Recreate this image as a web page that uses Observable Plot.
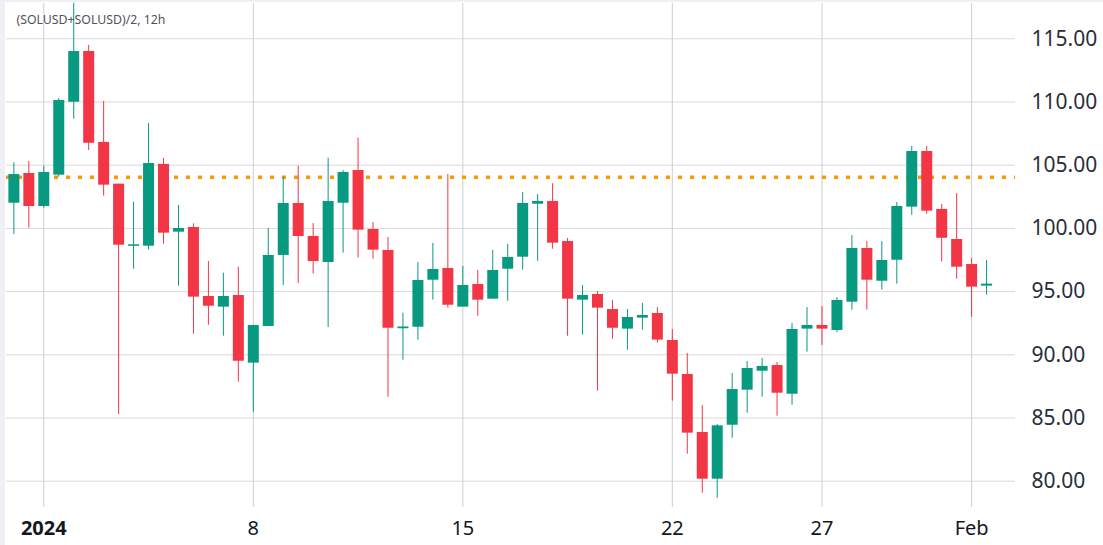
<!DOCTYPE html>
<html><head><meta charset="utf-8">
<script src="https://cdn.jsdelivr.net/npm/d3@7"></script>
<script src="https://cdn.jsdelivr.net/npm/@observablehq/plot@0.6"></script>
<style>
body{margin:0;background:#fff;font-family:"Noto Sans",sans-serif;}
#wrap{position:relative;width:1103px;height:545px;overflow:hidden;}
#wrap svg{position:absolute;left:0;top:0;}
.strip-l{position:absolute;left:0;top:0;width:5px;height:545px;background:#f0f0f4;}
.strip-t{position:absolute;left:0;top:0;width:1103px;height:2px;background:#f0f0f4;}
</style></head>
<body><div id="wrap"><div class="strip-l"></div><div class="strip-t"></div></div>
<script>
const title = "(SOLUSD+SOLUSD)/2, 12h";
const times = [
"2023-12-31T00","2023-12-31T12","2024-01-01T00","2024-01-01T12","2024-01-02T00","2024-01-02T12",
"2024-01-03T00","2024-01-03T12","2024-01-04T00","2024-01-04T12","2024-01-05T00","2024-01-05T12",
"2024-01-06T00","2024-01-06T12","2024-01-07T00","2024-01-07T12","2024-01-08T00","2024-01-08T12",
"2024-01-09T00","2024-01-09T12","2024-01-10T00","2024-01-10T12","2024-01-11T00","2024-01-11T12",
"2024-01-12T00","2024-01-12T12","2024-01-13T00","2024-01-13T12","2024-01-14T00","2024-01-14T12",
"2024-01-15T00","2024-01-15T12","2024-01-16T00","2024-01-16T12","2024-01-17T00","2024-01-17T12",
"2024-01-18T00","2024-01-18T12","2024-01-19T00","2024-01-19T12","2024-01-20T00","2024-01-20T12",
"2024-01-21T00","2024-01-21T12","2024-01-22T00","2024-01-22T12","2024-01-23T00","2024-01-23T12",
"2024-01-24T00","2024-01-24T12","2024-01-25T00","2024-01-25T12","2024-01-26T00","2024-01-26T12",
"2024-01-27T00","2024-01-27T12","2024-01-28T00","2024-01-28T12","2024-01-29T00","2024-01-29T12",
"2024-01-30T00","2024-01-30T12","2024-01-31T00","2024-01-31T12","2024-02-01T00","2024-02-01T12"];
const open = [101.99,104.34,101.73,104.21,109.98,113.99,106.80,103.50,98.58,98.59,105.06,99.70,
100.07,94.61,93.77,94.69,89.34,92.24,97.86,101.97,99.36,97.30,101.99,104.58,
99.91,98.25,92.06,92.18,95.90,96.83,93.77,95.56,94.40,96.77,97.72,101.91,
102.13,98.96,94.32,94.77,93.58,92.03,92.90,93.27,91.13,88.44,83.85,80.16,
84.43,87.20,88.70,89.15,86.88,92.03,92.32,91.92,94.16,98.41,95.82,97.48,
101.68,106.08,101.50,99.12,97.14,95.43];
const high = [105.19,105.29,104.92,110.28,117.80,114.47,110.04,103.50,102.07,108.30,105.53,101.81,
100.36,97.38,96.46,96.93,92.32,99.99,104.03,104.92,100.39,105.55,104.58,107.14,
100.47,99.28,93.29,97.30,98.81,104.26,97.00,96.67,98.25,98.73,102.84,102.68,
103.53,99.20,95.48,95.01,94.30,93.58,94.06,93.74,92.00,90.10,85.99,84.49,
88.52,89.47,89.71,89.39,92.48,93.74,93.82,94.53,99.44,98.96,98.96,102.05,
106.48,106.48,101.89,102.76,97.62,97.46];
const low = [99.52,100.02,101.60,104.05,108.64,106.16,102.55,85.28,96.77,98.28,98.75,95.43,
91.63,92.34,91.47,87.83,85.46,92.24,95.48,95.64,96.38,92.16,98.04,97.64,
97.56,86.65,89.57,91.16,94.32,93.69,93.77,93.05,94.40,94.24,96.69,97.40,
98.35,91.47,91.55,87.12,91.23,90.36,91.95,90.92,86.33,82.14,79.05,78.65,
83.40,85.38,86.65,85.14,86.01,90.21,90.74,91.75,93.53,93.53,95.11,95.59,
101.04,101.12,97.33,95.98,92.97,94.72];
const close = [104.26,101.73,104.42,110.12,113.99,106.74,103.42,98.67,98.70,105.13,99.62,99.99,
94.56,93.84,94.61,89.49,92.32,97.86,101.97,99.36,97.38,102.13,104.42,99.86,
98.28,92.10,92.20,95.88,96.75,93.92,95.48,94.32,96.67,97.70,101.97,102.13,
98.83,94.40,94.69,93.69,92.10,92.95,93.11,91.16,88.47,83.80,80.16,84.38,
87.25,88.92,89.08,86.96,92.00,92.32,92.03,94.30,98.41,95.90,97.46,101.73,
106.08,101.36,99.22,96.93,95.35,95.59];
const yTicks = [80,85,90,95,100,105,110,115];
const xTickDates = ["2024-01-01","2024-01-08","2024-01-15","2024-01-22","2024-01-27","2024-02-01"];
const xTickLabels = ["2024","8","15","22","27","Feb"];
const refLevel = 104.05;

const UP = "#089981", DOWN = "#f23645";
const data = times.map((t,i)=>({date:new Date(t+":00:00Z"), open:open[i], high:high[i], low:low[i], close:close[i]}));
const xDates = xTickDates.map(s=>new Date(s+"T00:00:00Z"));
const labelMap = new Map(xDates.map((d,i)=>[+d, xTickLabels[i]]));
const day = 864e5;
const jan1 = xDates[0];
const col = d => d.close >= d.open ? UP : DOWN;

const chart = Plot.plot({
  width:1103, height:545,
  marginLeft:6, marginRight:88, marginTop:3, marginBottom:38,
  x:{type:"utc", domain:[new Date(+jan1 - 1.246*day), new Date(+jan1 + 32.466*day)]},
  y:{domain:[77.92,117.79]},
  color:{type:"identity"},
  style:{background:"transparent", fontFamily:"'Noto Sans', sans-serif", overflow:"visible"},
  marks:[
    Plot.gridY(yTicks,{stroke:"#d9d9d9", strokeOpacity:1}),
    Plot.gridX(xDates,{stroke:"#cfcfcf", strokeOpacity:1}),
    Plot.ruleY([refLevel],{stroke:"#ff9800", strokeWidth:3.5, strokeDasharray:"4,8"}),
    Plot.ruleX(data,{x:"date", y1:"low", y2:"high", stroke:col, strokeWidth:1}),
    Plot.ruleX(data,{x:"date", y1:"open", y2:"close", stroke:col, strokeWidth:11}),
    Plot.axisY(yTicks,{anchor:"right", tickSize:0, tickPadding:16, tickFormat:d3.format(".2f"), fontSize:21, fill:"#2a2e39", label:null}),
    Plot.axisX(xDates.slice(0,1),{tickSize:0, tickPadding:13, tickFormat:d=>labelMap.get(+d), fontWeight:"bold", fontSize:20, fill:"#131722", label:null}),
    Plot.axisX(xDates.slice(1),{tickSize:0, tickPadding:13, tickFormat:d=>labelMap.get(+d), fontSize:20, fill:"#131722", label:null}),
    Plot.text([title],{frameAnchor:"top-left", textAnchor:"start", lineAnchor:"top", dx:10, dy:12, fontSize:12.3, fill:"#50535e"})
  ]
});
document.getElementById("wrap").appendChild(chart);
</script>
</body></html>
